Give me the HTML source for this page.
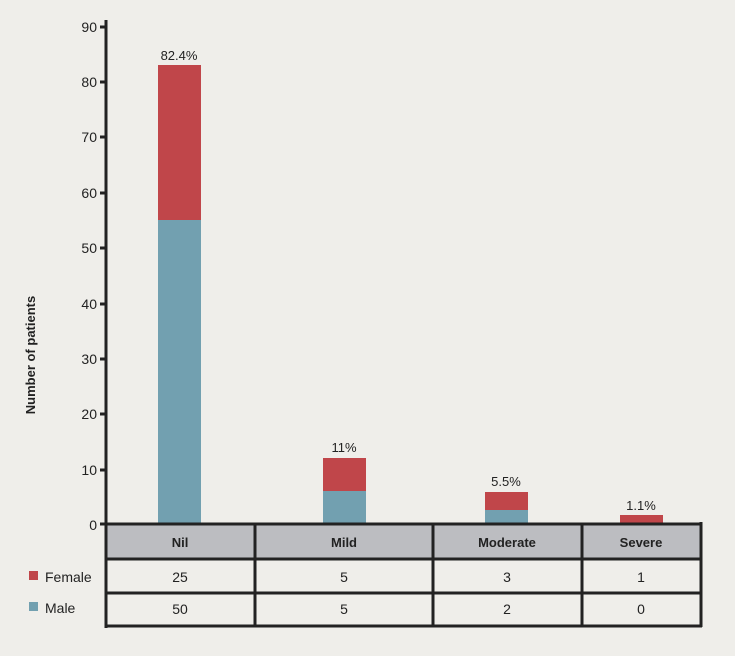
<!DOCTYPE html>
<html><head><style>body{margin:0;background:#efeeea;}svg{display:block;font-family:"Liberation Sans",sans-serif;}</style></head><body>
<svg width="735" height="656" viewBox="0 0 735 656">
<rect width="735" height="656" fill="#efeeea"/>
<g fill="#222" font-size="14" text-anchor="end">
<text x="97" y="32">90</text><text x="97" y="87">80</text><text x="97" y="142">70</text><text x="97" y="198">60</text><text x="97" y="253">50</text><text x="97" y="309">40</text><text x="97" y="364">30</text><text x="97" y="419">20</text><text x="97" y="475">10</text><text x="97" y="530">0</text>
</g>
<g stroke="#222" stroke-width="3">
<line x1="100" y1="27" x2="107" y2="27"/><line x1="100" y1="82" x2="107" y2="82"/><line x1="100" y1="137" x2="107" y2="137"/><line x1="100" y1="193" x2="107" y2="193"/><line x1="100" y1="248" x2="107" y2="248"/><line x1="100" y1="304" x2="107" y2="304"/><line x1="100" y1="359" x2="107" y2="359"/><line x1="100" y1="414" x2="107" y2="414"/><line x1="100" y1="470" x2="107" y2="470"/>
</g>
<text transform="translate(35,355) rotate(-90)" text-anchor="middle" font-size="13" font-weight="bold" fill="#222">Number of patients</text>
<rect x="158" y="65" width="43" height="155" fill="#c0464a"/><rect x="158" y="220" width="43" height="303" fill="#72a0b0"/>
<rect x="323" y="458" width="43" height="33" fill="#c0464a"/><rect x="323" y="491" width="43" height="32" fill="#72a0b0"/>
<rect x="485" y="492" width="43" height="18" fill="#c0464a"/><rect x="485" y="510" width="43" height="13" fill="#72a0b0"/>
<rect x="620" y="515" width="43" height="8" fill="#c0464a"/>
<g font-size="13" fill="#222" text-anchor="middle">
<text x="179" y="60">82.4%</text><text x="344" y="452">11%</text><text x="506" y="486">5.5%</text><text x="641" y="510">1.1%</text>
</g>
<rect x="107" y="524" width="594" height="35" fill="#bcbdc1"/>
<g stroke="#222" stroke-width="3" fill="none">
<line x1="106" y1="20" x2="106" y2="628"/>
<line x1="100" y1="524" x2="702" y2="524"/>
<line x1="106" y1="559" x2="702" y2="559"/>
<line x1="106" y1="593" x2="702" y2="593"/>
<line x1="106" y1="626" x2="702" y2="626"/>
<line x1="255" y1="524" x2="255" y2="627"/>
<line x1="433" y1="524" x2="433" y2="627"/>
<line x1="582" y1="524" x2="582" y2="627"/>
<line x1="701" y1="522" x2="701" y2="627"/>
</g>
<g font-size="13" font-weight="bold" fill="#222" text-anchor="middle">
<text x="180" y="547">Nil</text><text x="344" y="547">Mild</text><text x="507" y="547">Moderate</text><text x="641" y="547">Severe</text>
</g>
<g font-size="14" fill="#222" text-anchor="middle">
<text x="180" y="582">25</text><text x="344" y="582">5</text><text x="507" y="582">3</text><text x="641" y="582">1</text>
<text x="180" y="614">50</text><text x="344" y="614">5</text><text x="507" y="614">2</text><text x="641" y="614">0</text>
</g>
<rect x="29" y="571" width="9" height="9" fill="#c0464a"/><rect x="29" y="602" width="9" height="9" fill="#72a0b0"/>
<g font-size="14" fill="#222"><text x="45" y="582">Female</text><text x="45" y="613">Male</text></g>
</svg>
</body></html>
